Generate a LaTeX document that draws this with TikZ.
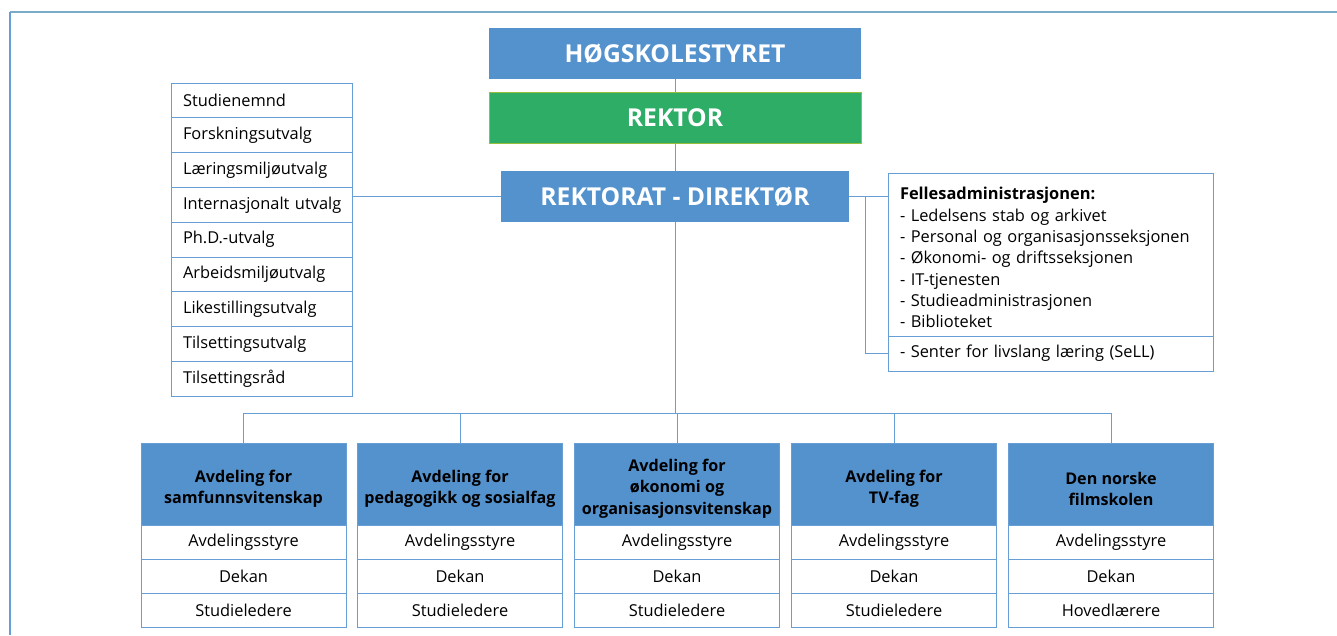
\documentclass[tikz,border=0pt]{standalone}
\usepackage{fontspec}
\setmainfont{Open Sans}
\definecolor{hblue}{RGB}{84,146,206}
\definecolor{hgreen}{RGB}{46,173,102}
\definecolor{hgreenline}{RGB}{150,190,60}
\definecolor{lblue}{RGB}{104,158,214}
\definecolor{framecol}{RGB}{122,172,200}
\begin{document}
\begin{tikzpicture}[x=0.75pt, y=-0.75pt, line width=0.75pt,
        every node/.style={inner sep=0pt, outer sep=0pt},
        topbox/.style={fill=hblue, text=white, font=\bfseries\fontsize{18.5}{22}\selectfont,
                minimum height=38.5pt},
        cbox/.style={draw=lblue, inner xsep=4.5pt, text width=126.75pt, align=left,
                execute at begin node=\hspace*{4.5pt},
                minimum height=26.1pt, font=\fontsize{12.3}{14}\selectfont},
        fabox/.style={draw=lblue, inner xsep=9pt, text width=225.75pt, align=left,
                font=\fontsize{12.3}{16}\selectfont, anchor=north west},
        dhead/.style={fill=hblue, draw=lblue, minimum width=153.75pt, minimum height=61.5pt},
        htext/.style={align=center, yshift=-3.5pt, font=\bfseries\fontsize{12.1}{15.9}\selectfont},
        drow/.style={draw=lblue, minimum width=153.75pt, minimum height=25.5pt,
                anchor=north, font=\fontsize{12.3}{14}\selectfont},
        link/.style={draw=lblue}]
    \useasboundingbox (0,0) rectangle (1337,635);
    % frame
    \draw[framecol, line width=1.5pt] (10,12) -- (1337,12);
    \draw[lblue, line width=1pt] (10,12) -- (10,635);

    % top of the chart
    \node[topbox, minimum width=279pt] (hs) at (675,53.5) {HØGSKOLESTYRET};
    \node[topbox, minimum width=279pt, fill=hgreen, draw=hgreenline] (rk) at (675,118) {REKTOR};
    \node[topbox, minimum width=261pt] (rd) at (675,196.5) {REKTORAT - DIREKTØR};

    % committees
    \foreach \t [count=\i] in {Studienemnd, Forskningsutvalg, Læringsmiljøutvalg,
            Internasjonalt utvalg, Ph.D.-utvalg, Arbeidsmiljøutvalg,
            Likestillingsutvalg, Tilsettingsutvalg, Tilsettingsråd}
        \node[cbox] (c\i) at (261.5,{83+34.8*(\i-0.5)}) {\t};

    % common administration
    \node[fabox, minimum height=122.25pt, text height=14pt] (fa) at (888,173) {\textbf{Fellesadministrasjonen:}\\
        - Ledelsens stab og arkivet\\
        - Personal og organisasjonsseksjonen\\
        - Økonomi- og driftsseksjonen\\
        - IT-tjenesten\\
        - Studieadministrasjonen\\
        - Biblioteket};
    \node[fabox, minimum height=26.25pt] (sl) at (888,336) {- Senter for livslang læring (SeLL)};

    % departments
    \foreach \x/\n/\r [count=\i] in {
            243.5/{Avdeling for\\samfunnsvitenskap}/Studieledere,
            460/{Avdeling for\\pedagogikk og sosialfag}/Studieledere,
            677/{Avdeling for\\økonomi og\\organisasjonsvitenskap}/Studieledere,
            894/{Avdeling for\\TV-fag}/Studieledere,
            1111/{Den norske\\filmskolen}/Hovedlærere} {
        \node[dhead, label={[htext]center:\n}] (h\i) at (\x,484) {};
        \node[drow] (s\i) at (h\i.south) {Avdelingsstyre};
        \node[drow] (d\i) at (s\i.south) {Dekan};
        \node[drow] (l\i) at (d\i.south) {\r};
    }

    % connectors
    \coordinate (bus) at (675,413);
    \coordinate (jn) at (865,196.5);
    \draw[link] (hs) -- (rk)
                (rk) -- (rd)
                (rd) -- (bus)
                (rd.west) -- (rd.west -| c4.east)
                (rd.east) -- (rd.east -| fa.west)
                (jn) |- (sl.west)
                (h1.north |- bus) -- (h5.north |- bus);
    \foreach \i in {1,...,5}
        \draw[link] (h\i.north |- bus) -- (h\i.north);
\end{tikzpicture}
\end{document}
